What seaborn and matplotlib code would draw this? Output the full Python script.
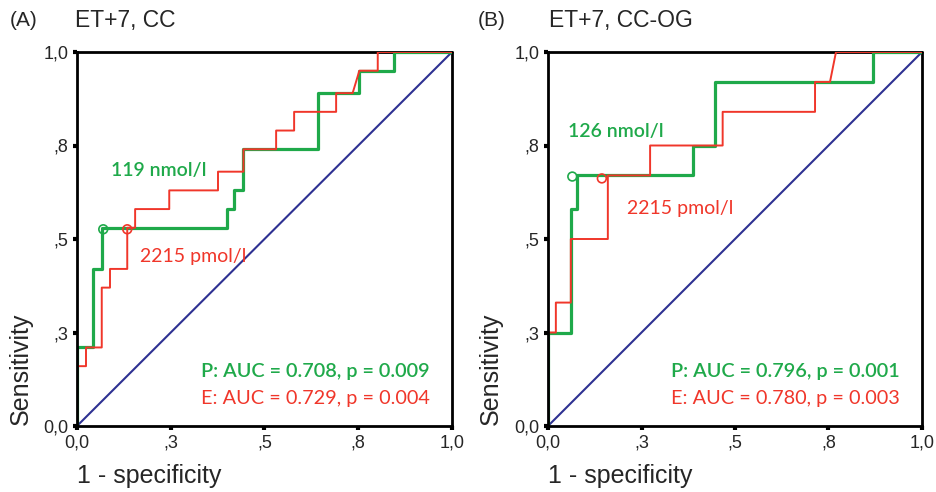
import numpy as np
import pandas as pd
import matplotlib
matplotlib.use('Agg')
import matplotlib.pyplot as plt
import seaborn as sns

# ROC curve vertices (1 - specificity, sensitivity)
a_green_fpr = [0, 0, 0.044, 0.044, 0.066, 0.066, 0.40, 0.40, 0.42, 0.42, 0.444, 0.444,
               0.644, 0.644, 0.753, 0.753, 0.846, 0.846, 1.0]
a_green_tpr = [0, 0.21, 0.21, 0.42, 0.42, 0.53, 0.53, 0.58, 0.58, 0.63, 0.63, 0.74,
               0.74, 0.89, 0.89, 0.95, 0.95, 1.0, 1.0]
a_red_fpr = [0, 0, 0.024, 0.024, 0.066, 0.066, 0.088, 0.088, 0.134, 0.134, 0.155, 0.155,
             0.246, 0.246, 0.376, 0.376, 0.444, 0.444, 0.531, 0.531, 0.579, 0.579,
             0.691, 0.691, 0.735, 0.753, 0.802, 0.802, 1.0]
a_red_tpr = [0, 0.16, 0.16, 0.21, 0.21, 0.37, 0.37, 0.42, 0.42, 0.53, 0.53, 0.58,
             0.58, 0.63, 0.63, 0.68, 0.68, 0.74, 0.74, 0.79, 0.79, 0.84,
             0.84, 0.89, 0.89, 0.95, 0.95, 1.0, 1.0]

b_green_fpr = [0, 0, 0.061, 0.061, 0.077, 0.077, 0.389, 0.389, 0.447, 0.447, 0.868, 0.868, 1.0]
b_green_tpr = [0, 0.25, 0.25, 0.58, 0.58, 0.67, 0.67, 0.75, 0.75, 0.92, 0.92, 1.0, 1.0]
b_red_fpr = [0, 0, 0.021, 0.021, 0.061, 0.061, 0.16, 0.16, 0.273, 0.273, 0.467, 0.467,
             0.714, 0.714, 0.754, 0.770, 1.0]
b_red_tpr = [0, 0.25, 0.25, 0.33, 0.33, 0.50, 0.50, 0.67, 0.67, 0.75, 0.75, 0.84,
             0.84, 0.92, 0.92, 1.0, 1.0]

# optimal cut-off points
a_cut_green = (0.07, 0.526)
a_cut_red = (0.134, 0.526)
b_cut_green = (0.065, 0.667)
b_cut_red = (0.144, 0.662)

panel_tags = ['(A)', '(B)']
panel_titles = ['ET+7, CC', 'ET+7, CC-OG']
green_labels = ['119 nmol/l', '126 nmol/l']
red_labels = ['2215 pmol/l', '2215 pmol/l']
green_auc = ['P: AUC = 0.708, p = 0.009', 'P: AUC = 0.796, p = 0.001']
red_auc = ['E: AUC = 0.729, p = 0.004', 'E: AUC = 0.780, p = 0.003']
tick_vals = [0, 0.25, 0.5, 0.75, 1.0]
tick_text = ['0,0', ',3', ',5', ',8', '1,0']

GREEN = '#1fa94a'
RED = '#f0362a'
NAVY = '#2e3192'

sns.set_style('white')
plt.rcParams['font.family'] = ['Liberation Sans', 'DejaVu Sans']

fig = plt.figure(figsize=(9.37, 4.92), dpi=100)
ax_a = fig.add_axes([77 / 937, 66 / 492, 375 / 937, 374 / 492])
ax_b = fig.add_axes([548 / 937, 66 / 492, 374 / 937, 374 / 492])

panels = [
    (ax_a, a_green_fpr, a_green_tpr, a_red_fpr, a_red_tpr, a_cut_green, a_cut_red,
     (0.092, 0.684), (0.168, 0.453), -0.117),
    (ax_b, b_green_fpr, b_green_tpr, b_red_fpr, b_red_tpr, b_cut_green, b_cut_red,
     (0.054, 0.787), (0.21, 0.582), -0.120),
]

for i, (ax, gx, gy, rx, ry, cg, cr, gl_pos, rl_pos, ylab_x) in enumerate(panels):
    # top and right frame edges sit under the curves
    ax.axhline(1.0, color='black', lw=2, zorder=1.5, clip_on=False)
    ax.axvline(1.0, color='black', lw=2, zorder=1.5, clip_on=False)
    sns.lineplot(x=[0, 1], y=[0, 1], color=NAVY, lw=1.5, ax=ax)
    sns.lineplot(x=gx, y=gy, sort=False, estimator=None, color=GREEN, lw=2.3, ax=ax)
    sns.lineplot(x=rx, y=ry, sort=False, estimator=None, color=RED, lw=1.4, ax=ax)
    sns.scatterplot(x=[cg[0]], y=[cg[1]], marker='o', s=40, facecolor='none',
                    edgecolor=GREEN, linewidth=1.2, ax=ax, zorder=4)
    sns.scatterplot(x=[cr[0]], y=[cr[1]], marker='o', s=40, facecolor='none',
                    edgecolor=RED, linewidth=1.2, ax=ax, zorder=4)

    ax.set_xlim(0, 1)
    ax.set_ylim(0, 1)
    ax.set_xticks(tick_vals)
    ax.set_xticklabels(tick_text)
    ax.set_yticks(tick_vals)
    ax.set_yticklabels(tick_text)
    ax.tick_params(axis='both', direction='out', length=3, width=3, color='black',
                   labelsize=13, pad=3, left=True, bottom=True)
    for side in ['left', 'bottom']:
        ax.spines[side].set_visible(True)
        ax.spines[side].set_color('black')
        ax.spines[side].set_linewidth(2)
    ax.spines['top'].set_visible(False)
    ax.spines['right'].set_visible(False)

    ax.set_ylabel('Sensitivity', fontsize=18)
    ax.yaxis.set_label_coords(ylab_x, 0.152)
    ax.set_xlabel('1 - specificity', fontsize=18, ha='left', va='center')
    ax.xaxis.set_label_coords(0.0, -0.134)

    ax.text(gl_pos[0], gl_pos[1], green_labels[i], color=GREEN, fontsize=14,
            fontweight='semibold', family='Lato', va='center', ha='left')
    ax.text(rl_pos[0], rl_pos[1], red_labels[i], color=RED, fontsize=14,
            family='Lato', va='center', ha='left')
    ax.text(0.941, 0.146, green_auc[i], color=GREEN, fontsize=14.3,
            fontweight='semibold', family='Lato', va='center', ha='right')
    ax.text(0.941, 0.074, red_auc[i], color=RED, fontsize=14.3,
            family='Lato', va='center', ha='right')

fig.text(10 / 937, 1 - 20 / 492, panel_tags[0], fontsize=15, va='center', ha='left')
fig.text(75 / 937, 1 - 20 / 492, panel_titles[0], fontsize=16.5, va='center', ha='left')
fig.text(478 / 937, 1 - 20 / 492, panel_tags[1], fontsize=15, va='center', ha='left')
fig.text(549 / 937, 1 - 20 / 492, panel_titles[1], fontsize=16.5, va='center', ha='left')

fig.savefig('out.png', dpi=100)
